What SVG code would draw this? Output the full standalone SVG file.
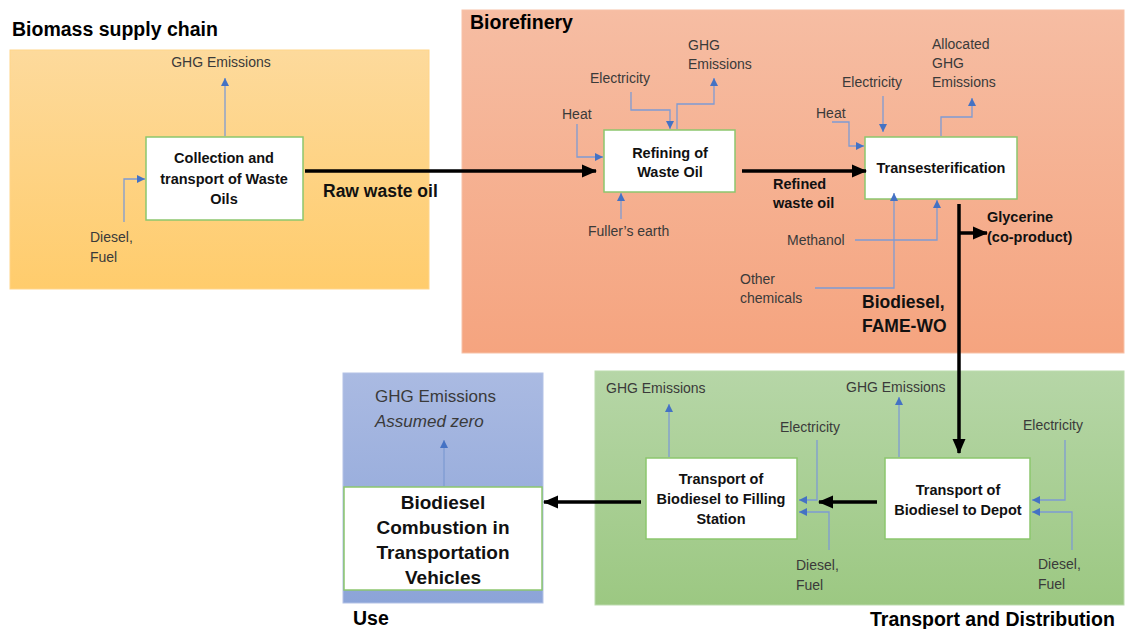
<svg xmlns="http://www.w3.org/2000/svg" width="1125" height="629" viewBox="0 0 1125 629">
  <defs>
    <linearGradient id="gOrange" x1="0" y1="0" x2="0" y2="1">
      <stop offset="0" stop-color="#FDDA9C"/>
      <stop offset="1" stop-color="#FFCC6C"/>
    </linearGradient>
    <linearGradient id="gSalmon" x1="0" y1="0" x2="0" y2="1">
      <stop offset="0" stop-color="#F6BDA3"/>
      <stop offset="1" stop-color="#F5A47F"/>
    </linearGradient>
    <linearGradient id="gGreen" x1="0" y1="0" x2="0" y2="1">
      <stop offset="0" stop-color="#B6D6A7"/>
      <stop offset="1" stop-color="#9CC882"/>
    </linearGradient>
    <linearGradient id="gBlue" x1="0" y1="0" x2="0" y2="1">
      <stop offset="0" stop-color="#AABAE2"/>
      <stop offset="1" stop-color="#8CA4D8"/>
    </linearGradient>
    <marker id="aBlue" markerUnits="userSpaceOnUse" markerWidth="9" markerHeight="9" refX="8" refY="4.5" orient="auto">
      <path d="M0,0.5 L8,4.5 L0,8.5 Z" fill="#4472C4"/>
    </marker>
    <marker id="aBlack" markerUnits="userSpaceOnUse" markerWidth="16" markerHeight="16" refX="14" refY="8" orient="auto">
      <path d="M0,1.5 L15,8 L0,14.5 Z" fill="#000"/>
    </marker>
  </defs>
  <style>
    .panel-title { font-family: "Liberation Sans", Arial, sans-serif; font-weight: bold; font-size: 19.5px; fill: #000; }
    .lbl { font-family: "Liberation Sans", Arial, sans-serif; font-size: 14px; fill: #3a3a3a; }
    .bold { font-family: "Liberation Sans", Arial, sans-serif; font-weight: bold; font-size: 14.5px; fill: #111; }
    .flow { font-family: "Liberation Sans", Arial, sans-serif; font-weight: bold; font-size: 17.5px; fill: #111; }
    .big { font-family: "Liberation Sans", Arial, sans-serif; font-weight: bold; font-size: 19px; fill: #111; }
    .box { fill: #fff; stroke: #8CC66E; stroke-width: 1.5; }
    .in { fill: none; stroke: #7E9BD3; stroke-width: 1.3; marker-end: url(#aBlue); }
    .main-arr { fill: none; stroke: #000; stroke-width: 3.5; marker-end: url(#aBlack); }
  </style>

  <rect width="1125" height="629" fill="#fff"/>

  <!-- stage panels -->
  <g id="panel-biomass">
    <rect x="10" y="50" width="419" height="239" fill="url(#gOrange)" stroke="#FFD58A" stroke-width="1"/>
    <text class="panel-title" x="12" y="36">Biomass supply chain</text>
  </g>
  <g id="panel-biorefinery">
    <rect x="462" y="10" width="662" height="343" fill="url(#gSalmon)" stroke="#F7C2A8" stroke-width="1"/>
    <text class="panel-title" x="470" y="29">Biorefinery</text>
  </g>
  <g id="panel-transport">
    <rect x="595" y="371" width="529" height="234" fill="url(#gGreen)" stroke="#BCDBAE" stroke-width="1"/>
    <text class="panel-title" x="870" y="626">Transport and Distribution</text>
  </g>
  <g id="panel-use">
    <rect x="343" y="373" width="200" height="230" fill="url(#gBlue)" stroke="#B3C2E6" stroke-width="1"/>
    <text class="panel-title" x="353" y="625">Use</text>
  </g>

  <!-- flow labels -->
  <g id="flow-labels">
    <text class="flow" x="323" y="197">Raw waste oil</text>
    <text class="bold" x="773" y="189">Refined</text>
    <text class="bold" x="773" y="208">waste oil</text>
    <text class="bold" x="987" y="222">Glycerine</text>
    <text class="bold" x="987" y="242">(co-product)</text>
    <text class="flow" x="862" y="308">Biodiesel,</text>
    <text class="flow" x="862" y="332">FAME-WO</text>
  </g>

  <!-- external inputs / emissions -->
  <g id="io-labels">
    <text class="lbl" x="221" y="67" text-anchor="middle">GHG Emissions</text>
    <text class="lbl" x="90" y="242">Diesel,</text>
    <text class="lbl" x="90" y="262">Fuel</text>

    <text class="lbl" x="562" y="119">Heat</text>
    <text class="lbl" x="590" y="83">Electricity</text>
    <text class="lbl" x="688" y="50">GHG</text>
    <text class="lbl" x="688" y="69">Emissions</text>
    <text class="lbl" x="588" y="236">Fuller’s earth</text>

    <text class="lbl" x="816" y="118">Heat</text>
    <text class="lbl" x="842" y="87">Electricity</text>
    <text class="lbl" x="932" y="49">Allocated</text>
    <text class="lbl" x="932" y="68">GHG</text>
    <text class="lbl" x="932" y="87">Emissions</text>
    <text class="lbl" x="787" y="245">Methanol</text>
    <text class="lbl" x="740" y="284">Other</text>
    <text class="lbl" x="740" y="303">chemicals</text>

    <text class="lbl" x="606" y="393">GHG Emissions</text>
    <text class="lbl" x="780" y="432">Electricity</text>
    <text class="lbl" x="796" y="570">Diesel,</text>
    <text class="lbl" x="796" y="590">Fuel</text>
    <text class="lbl" x="846" y="392">GHG Emissions</text>
    <text class="lbl" x="1023" y="430">Electricity</text>
    <text class="lbl" x="1038" y="569">Diesel,</text>
    <text class="lbl" x="1038" y="589">Fuel</text>

    <text class="lbl" x="375" y="402" style="font-size:17px">GHG Emissions</text>
    <text class="lbl" x="375" y="427" style="font-size:17px;font-style:italic">Assumed zero</text>
  </g>

  <!-- process nodes -->
  <g id="node-collection">
    <rect class="box" x="146" y="137" width="157" height="83"/>
    <text class="bold" x="224" y="163" text-anchor="middle">Collection and</text>
    <text class="bold" x="224" y="184" text-anchor="middle">transport of Waste</text>
    <text class="bold" x="224" y="204" text-anchor="middle">Oils</text>
  </g>
  <g id="node-refining">
    <rect class="box" x="604" y="130" width="131" height="62"/>
    <text class="bold" x="670" y="158" text-anchor="middle">Refining of</text>
    <text class="bold" x="670" y="177" text-anchor="middle">Waste Oil</text>
  </g>
  <g id="node-transesterification">
    <rect class="box" x="865" y="137" width="152" height="62"/>
    <text class="bold" x="941" y="173" text-anchor="middle">Transesterification</text>
  </g>
  <g id="node-depot">
    <rect class="box" x="885" y="458" width="145" height="81"/>
    <text class="bold" x="958" y="495" text-anchor="middle">Transport of</text>
    <text class="bold" x="958" y="515" text-anchor="middle">Biodiesel to Depot</text>
  </g>
  <g id="node-filling">
    <rect class="box" x="646" y="458" width="151" height="81"/>
    <text class="bold" x="721" y="484" text-anchor="middle">Transport of</text>
    <text class="bold" x="721" y="504" text-anchor="middle">Biodiesel to Filling</text>
    <text class="bold" x="721" y="524" text-anchor="middle">Station</text>
  </g>
  <g id="node-combustion">
    <rect class="box" x="344" y="487" width="198" height="103"/>
    <text class="big" x="443" y="509" text-anchor="middle">Biodiesel</text>
    <text class="big" x="443" y="534" text-anchor="middle">Combustion in</text>
    <text class="big" x="443" y="559" text-anchor="middle">Transportation</text>
    <text class="big" x="443" y="584" text-anchor="middle">Vehicles</text>
  </g>

  <!-- connectors -->
  <g id="connectors">
    <!-- main product flow -->
    <line class="main-arr" x1="305" y1="171" x2="596" y2="171"/>
    <line class="main-arr" x1="742" y1="171" x2="866" y2="171"/>
    <line class="main-arr" x1="959" y1="204" x2="959" y2="453"/>
    <line class="main-arr" x1="960" y1="233" x2="987" y2="233"/>
    <line class="main-arr" x1="877" y1="502" x2="819" y2="502"/>
    <line class="main-arr" x1="641" y1="502" x2="544" y2="502"/>

    <!-- biomass supply chain inputs/outputs -->
    <polyline class="in" points="225,136 225,78"/>
    <polyline class="in" points="124,222 124,179 145,179"/>

    <!-- refining inputs/outputs -->
    <polyline class="in" points="577,124 577,157 603,157"/>
    <polyline class="in" points="631,92 631,110 670,110 670,129"/>
    <polyline class="in" points="677,129 677,104 714,104 714,78"/>
    <polyline class="in" points="621,219 621,193"/>

    <!-- transesterification inputs/outputs -->
    <polyline class="in" points="832,122 849,122 849,146 864,146"/>
    <polyline class="in" points="883,96 883,132"/>
    <polyline class="in" points="941,136 941,117 972,117 972,98"/>
    <polyline class="in" points="855,240 937,240 937,200"/>
    <polyline class="in" points="815,288 894,288 894,193"/>

    <!-- transport and distribution inputs/outputs -->
    <polyline class="in" points="669,457 669,404"/>
    <polyline class="in" points="817,440 817,500 799,500"/>
    <polyline class="in" points="829,550 829,512 799,512"/>
    <polyline class="in" points="899,457 899,397"/>
    <polyline class="in" points="1065,440 1065,500 1032,500"/>
    <polyline class="in" points="1072,550 1072,512 1032,512"/>

    <!-- use -->
    <polyline class="in" points="444,486 444,440"/>
  </g>
</svg>
